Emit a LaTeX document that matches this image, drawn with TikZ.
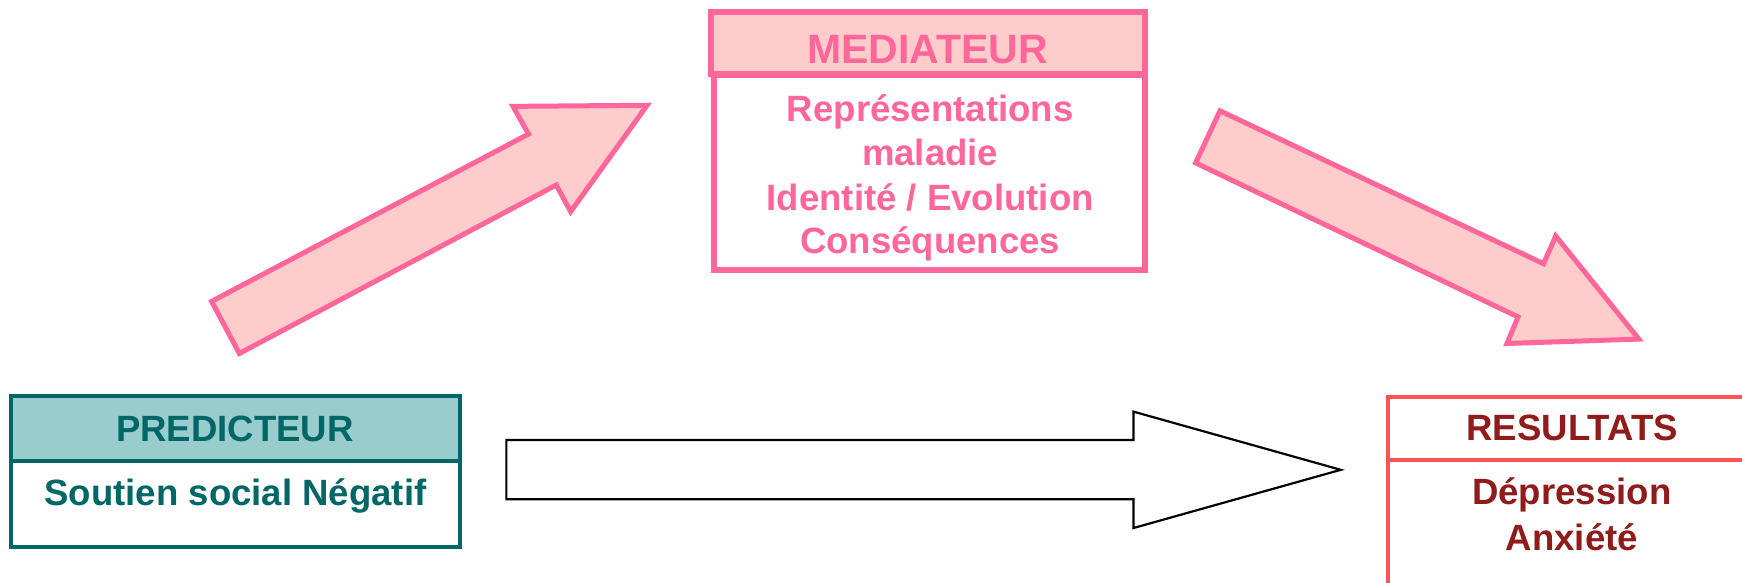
\documentclass[tikz,border=0pt]{standalone}
\usepackage{fontspec}
\setmainfont{Liberation Sans}
\definecolor{tealfill}{HTML}{99CCCC}
\definecolor{tealdark}{HTML}{006666}
\definecolor{pinkline}{HTML}{FF6699}
\definecolor{pinkfill}{HTML}{FFCCCC}
\definecolor{redline}{HTML}{FF5353}
\definecolor{redtext}{HTML}{8F1B1B}
\begin{document}
\begin{tikzpicture}[x=1pt,y=-1pt,scale=1.1081,every node/.append style={transform shape},
  boxbase/.style={rectangle, inner sep=0pt, outer sep=0pt},
  predbox/.style={boxbase, draw=tealdark, line width=4pt},
  medbox/.style={boxbase, draw=pinkline, line width=5.8pt},
  resbox/.style={boxbase, draw=redline, line width=4pt, fill=white},
  txt/.style={font=\bfseries\fontsize{33}{40}\selectfont, anchor=base, inner sep=0pt},
  bigtxt/.style={font=\bfseries\fontsize{37}{44}\selectfont, anchor=base, inner sep=0pt},
  pinkarrow/.style={draw=pinkline, fill=pinkfill, line width=5pt, line join=miter},
  blackarrow/.style={draw=black, fill=white, line width=2.2pt, line join=miter}]
\useasboundingbox (0,0) rectangle (1572.1,526.1);
\clip (0,0) rectangle (1572.1,526.1);

% Predictor
\node[predbox, fill=tealfill, minimum width=405pt, minimum height=59pt] (predhead) at (212.5,386.5) {};
\node[predbox, fill=white, minimum width=405pt, minimum height=78pt] (predbody) at (212.5,455) {};
\node[txt, text=tealdark] (predtitle) at (212,398.6) {PREDICTEUR};
\node[txt, text=tealdark] (predl1) at (212.5,456) {Soutien social Négatif};

% Mediator
\node[medbox, fill=pinkfill, minimum width=391pt, minimum height=56.5pt] (medhead) at (837.5,38.75) {};
\node[medbox, fill=white, minimum width=389pt, minimum height=176pt] (medbody) at (838.5,156) {};
\node[bigtxt, text=pinkline] (medtitle) at (837,57.2) {MEDIATEUR};
\node[txt, text=pinkline] (medl1) at (839.5,110) {Représentations};
\node[txt, text=pinkline] (medl2) at (839.5,149.5) {maladie};
\node[txt, text=pinkline] (medl3) at (839.5,190) {Identité / Evolution};
\node[txt, text=pinkline] (medl4) at (839.5,229) {Conséquences};

% Results
\node[resbox, minimum width=500pt, minimum height=57pt] (reshead) at (1503,386.5) {};
\node[resbox, minimum width=500pt, minimum height=200pt] (resbody) at (1503,515) {};
\node[txt, text=redtext] (restitle) at (1418.8,397.7) {RESULTATS};
\node[txt, text=redtext] (resl1) at (1418.5,455.7) {Dépression};
\node[txt, text=redtext] (resl2) at (1418.5,496.4) {Anxiété};

% Direct effect arrow
\draw[blackarrow] (457,397) -- (1023,397) -- (1023,371.5) -- (1210,424)
  -- (1023,476.5) -- (1023,450.5) -- (457,450.5) -- cycle;

% Predictor -> mediator arrow
\draw[pinkarrow] (191,272) -- (477,121) -- (463,96) -- (584,95)
  -- (515,191) -- (502,167) -- (216,319) -- cycle;

% Mediator -> results arrow
\draw[pinkarrow] (1101,100) -- (1393,238) -- (1404,213) -- (1479,306)
  -- (1360,310) -- (1370,286) -- (1079,147) -- cycle;
\end{tikzpicture}
\end{document}
